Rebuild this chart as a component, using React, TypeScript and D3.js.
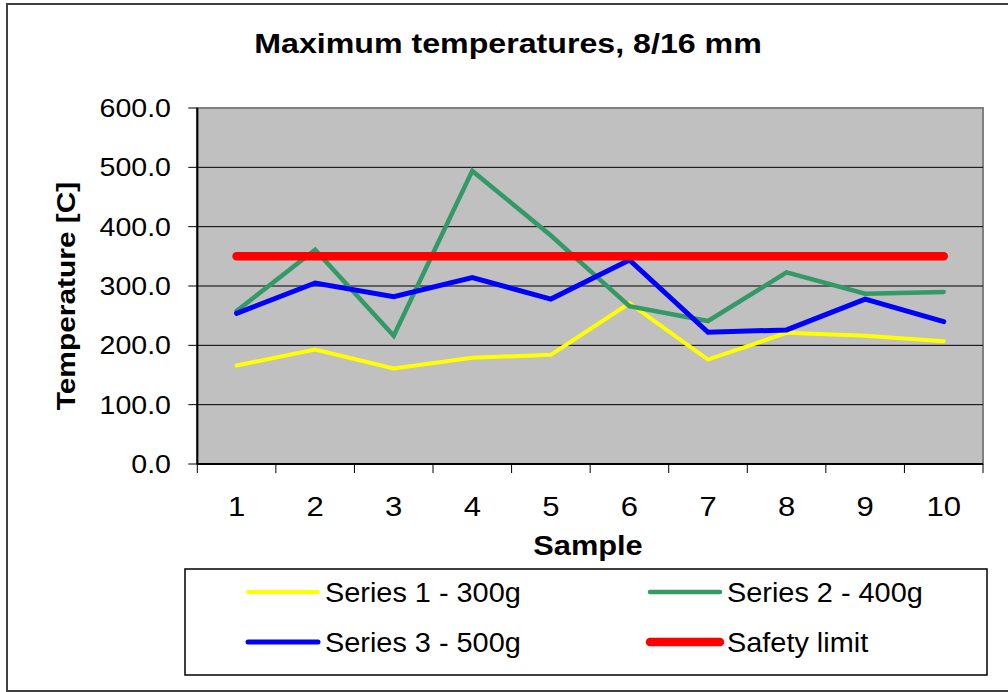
import React from "react";
import * as d3 from "d3";

const categories = ["1", "2", "3", "4", "5", "6", "7", "8", "9", "10"];
const series1 = [166, 193, 161, 179, 184, 271, 176, 221, 216, 207];
const series2 = [258, 361, 216, 494, 385, 266, 241, 323, 287, 290];
const series3 = [254, 305, 282, 314, 278, 344, 222, 226, 278, 240];
const safety = [350, 350, 350, 350, 350, 350, 350, 350, 350, 350];
const yTicks = [0, 100, 200, 300, 400, 500, 600];

const seriesDefs = [
  { name: "Series 1 - 300g", values: series1, color: "#FFFF00", width: 4 },
  { name: "Series 2 - 400g", values: series2, color: "#339966", width: 4.5 },
  { name: "Series 3 - 500g", values: series3, color: "#0000FF", width: 5 },
  { name: "Safety limit", values: safety, color: "#FF0000", width: 8.5 },
];

const FONT = "'Liberation Sans', Arial, sans-serif";

export default function App() {
  const left = 197.3, right = 983, top = 108, bottom = 464;
  const x = d3.scaleBand<string>().domain(categories).range([left, right]).padding(0);
  const y = d3.scaleLinear().domain([0, 600]).range([bottom, top]);
  const cx = (c: string) => (x(c) as number) + x.bandwidth() / 2;

  const line = d3
    .line<number>()
    .x((_, i) => cx(categories[i]))
    .y((d) => y(d));

  const boundaries = categories.map((c) => x(c) as number).concat([right]);

  const legendItems = [
    { def: seriesDefs[0], lx: 248, ly: 592 },
    { def: seriesDefs[1], lx: 650, ly: 592 },
    { def: seriesDefs[2], lx: 248, ly: 642 },
    { def: seriesDefs[3], lx: 650, ly: 642 },
  ];

  return (
    <svg
      width={1008}
      height={692}
      style={{ position: "absolute", left: 0, top: 0, background: "#fff" }}
      fontFamily={FONT}
    >
      <rect x={7} y={4} width={1010} height={687} fill="#fff" stroke="#404040" strokeWidth={2} />

      <text
        transform={`translate(508,53) scale(1.17,1)`}
        textAnchor="middle"
        fontWeight="bold"
        fontSize={27.5}
        fill="#000"
      >
        Maximum temperatures, 8/16 mm
      </text>

      {/* plot area */}
      <rect x={left} y={top} width={right - left} height={bottom - top} fill="#C0C0C0" stroke="#808080" strokeWidth={2} />

      {yTicks.map((t) => (
        <g key={t}>
          {t > 0 && t < 600 && (
            <line x1={left} x2={right} y1={y(t)} y2={y(t)} stroke="#000" strokeWidth={1} />
          )}
          <line x1={left - 9} x2={left} y1={y(t)} y2={y(t)} stroke="#000" strokeWidth={1} />
          <text
            transform={`translate(171,${y(t) + 9}) scale(1.12,1)`}
            textAnchor="end"
            fontSize={25.5}
            fill="#000"
          >
            {t.toFixed(1)}
          </text>
        </g>
      ))}

      {/* axes */}
      <line x1={left} x2={left} y1={top} y2={bottom} stroke="#000" strokeWidth={2} />
      <line x1={left} x2={right} y1={bottom} y2={bottom} stroke="#000" strokeWidth={2} />

      {boundaries.map((b, i) => (
        <line key={i} x1={b} x2={b} y1={bottom} y2={bottom + 9} stroke="#000" strokeWidth={1} />
      ))}

      {categories.map((c) => (
        <text
          key={c}
          transform={`translate(${cx(c)},515.5) scale(1.15,1)`}
          textAnchor="middle"
          fontSize={27}
          fill="#000"
        >
          {c}
        </text>
      ))}

      <text
        transform={`translate(588,555) scale(1.14,1)`}
        textAnchor="middle"
        fontWeight="bold"
        fontSize={27}
        fill="#000"
      >
        Sample
      </text>

      <text
        transform={`translate(75,296) rotate(-90) scale(1.15,1)`}
        textAnchor="middle"
        fontWeight="bold"
        fontSize={26}
        fill="#000"
      >
        Temperature [C]
      </text>

      {/* series */}
      {seriesDefs.map((s) => (
        <path
          key={s.name}
          d={line(s.values) as string}
          fill="none"
          stroke={s.color}
          strokeWidth={s.width}
          strokeLinecap="round"
          strokeLinejoin="miter"
        />
      ))}

      {/* legend */}
      <rect x={185} y={569} width={802} height={106} fill="#fff" stroke="#000" strokeWidth={1.5} />
      {legendItems.map(({ def, lx, ly }) => (
        <g key={def.name}>
          <line x1={lx} x2={lx + 70} y1={ly} y2={ly} stroke={def.color} strokeWidth={def.width} strokeLinecap="round" />
          <text
            transform={`translate(${lx + 77},${ly + 10}) scale(1.05,1)`}
            fontSize={27.5}
            fill="#000"
          >
            {def.name}
          </text>
        </g>
      ))}
    </svg>
  );
}
